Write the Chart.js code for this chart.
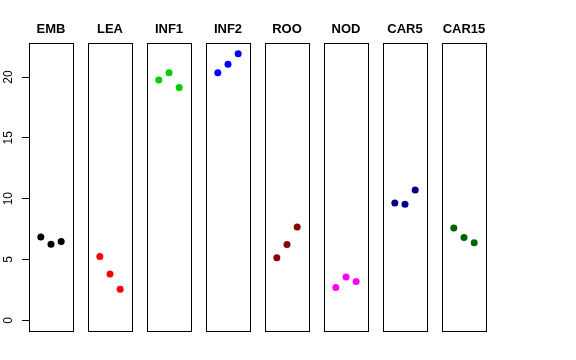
<!DOCTYPE html>
<html>
<head>
<meta charset="utf-8">
<script src="https://cdn.jsdelivr.net/npm/chart.js@4"></script>
<style>
  body { margin: 0; background: #fff; }
  #wrap { position: relative; width: 576px; height: 360px; overflow: hidden; }
  .panel { position: absolute; top: 0; height: 340px; }
</style>
</head>
<body>
<div id="wrap"></div>
<script>
// tissues and their three replicate values
const tissues = ['EMB', 'LEA', 'INF1', 'INF2', 'ROO', 'NOD', 'CAR5', 'CAR15'];
const replicates = [1, 2, 3];
const EMB = [6.84, 6.26, 6.47];
const LEA = [5.24, 3.80, 2.56];
const INF1 = [19.76, 20.36, 19.13];
const INF2 = [20.36, 21.05, 21.92];
const ROO = [5.14, 6.23, 7.68];
const NOD = [2.70, 3.57, 3.19];
const CAR5 = [9.65, 9.55, 10.72];
const CAR15 = [7.58, 6.80, 6.37];
const yTicks = [0, 5, 10, 15, 20];

const values = [EMB, LEA, INF1, INF2, ROO, NOD, CAR5, CAR15];
const colors = ['#000000', '#ff0000', '#00cd00', '#0000ff', '#8b0000', '#ff00ff', '#00008b', '#006400'];

const FONT = "'Liberation Sans', Arial, Helvetica, sans-serif";

// R style extents (4% padding)
const yMax = Math.max(...values.flat());
const yPad = yMax * 0.04;
const xPad = 4 * 0.04;

// box around each plot region
const boxPlugin = {
    id: 'box',
    afterDraw(chart) {
        const a = chart.chartArea;
        const ctx = chart.ctx;
        ctx.save();
        ctx.strokeStyle = '#000';
        ctx.lineWidth = 1;
        ctx.strokeRect(Math.round(a.left) + 0.5, Math.round(a.top) + 0.5,
            Math.round(a.right - a.left), Math.round(a.bottom - a.top));
        ctx.restore();
    }
};

const wrap = document.getElementById('wrap');

tissues.forEach((name, i) => {
    const first = i === 0;
    const boxLeft = 29 + 59 * i;
    const div = document.createElement('div');
    div.className = 'panel';
    const w = first ? boxLeft + 44 + 8 : 60;
    div.style.left = (first ? 0 : boxLeft - 8) + 'px';
    div.style.width = w + 'px';
    const cv = document.createElement('canvas');
    div.appendChild(cv);
    wrap.appendChild(div);

    new Chart(cv.getContext('2d'), {
        type: 'scatter',
        data: {
            datasets: [{
                data: replicates.map((r, k) => ({ x: r, y: values[i][k] })),
                backgroundColor: colors[i],
                borderColor: colors[i],
                pointRadius: 3.5,
                pointHoverRadius: 3.5,
                borderWidth: 0
            }]
        },
        options: {
            responsive: true,
            maintainAspectRatio: false,
            animation: false,
            events: [],
            layout: { padding: { left: first ? 0 : 8, right: 8, top: 0, bottom: 9 } },
            scales: {
                x: { type: 'linear', display: false, min: 0 - xPad, max: 4 + xPad },
                y: {
                    type: 'linear',
                    display: first,
                    min: 0 - yPad,
                    max: yMax + yPad,
                    afterBuildTicks: (s) => { s.ticks = yTicks.map(v => ({ value: v })); },
                    afterFit: (s) => {
                        if (!first) return;
                        s.width = 29;
                        s.paddingTop = 0;
                        s.paddingBottom = 0;
                    },
                    border: { display: false },
                    grid: { drawOnChartArea: false, tickLength: 7, color: '#000', lineWidth: 1 },
                    ticks: {
                        autoSkip: false,
                        minRotation: 90,
                        maxRotation: 90,
                        crossAlign: 'center',
                        padding: 7,
                        color: '#000',
                        font: { family: FONT, size: 12 }
                    }
                }
            },
            plugins: {
                legend: { display: false },
                tooltip: { enabled: false },
                title: {
                    display: true,
                    text: name,
                    fullSize: !first,
                    color: '#000',
                    font: { family: FONT, size: 13, weight: 'bold', lineHeight: 1.2 },
                    padding: { top: 21.5, bottom: 5.9 }
                }
            }
        },
        plugins: [boxPlugin]
    });
});
</script>
</body>
</html>
